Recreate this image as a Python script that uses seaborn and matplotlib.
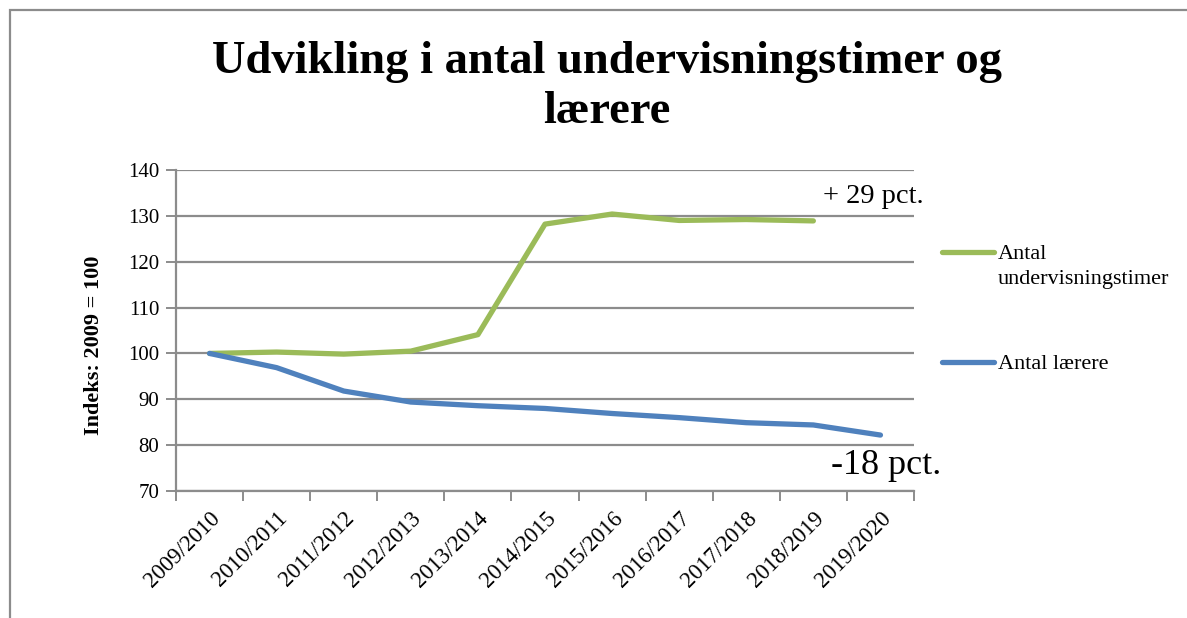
import numpy as np
import pandas as pd
import matplotlib
matplotlib.use("Agg")
import matplotlib.pyplot as plt
import seaborn as sns
from matplotlib.lines import Line2D
from matplotlib.patches import Rectangle

categories = ["2009/2010", "2010/2011", "2011/2012", "2012/2013", "2013/2014",
              "2014/2015", "2015/2016", "2016/2017", "2017/2018", "2018/2019", "2019/2020"]
timer = [100.0, 100.3, 99.85, 100.5, 104.1, 128.2, 130.4, 129.0, 129.2, 128.9, np.nan]
laerere = [100.0, 96.9, 91.8, 89.4, 88.6, 88.0, 86.9, 86.0, 84.9, 84.4, 82.2]
series_names = ["Antal undervisningstimer", "Antal lærere"]
legend_labels = ["Antal\nundervisningstimer", "Antal lærere"]
colors = ["#9BBB59", "#4F81BD"]
yticks = [70, 80, 90, 100, 110, 120, 130, 140]

sns.set_theme(style="white")
plt.rcParams["font.family"] = ["Liberation Serif", "DejaVu Serif"]
plt.rcParams["text.color"] = "black"
plt.rcParams["axes.labelcolor"] = "black"
plt.rcParams["xtick.color"] = "black"
plt.rcParams["ytick.color"] = "black"

df = pd.DataFrame({
    "idx": list(range(len(categories))) * 2,
    "value": timer + laerere,
    "serie": [series_names[0]] * len(categories) + [series_names[1]] * len(categories),
})

fig = plt.figure(figsize=(11.87, 6.18), dpi=100)
ax = fig.add_axes([176 / 1187, 1 - 491 / 618, (914 - 176) / 1187, (491 - 170) / 618])

for name, col in zip(series_names, colors):
    sub = df[df["serie"] == name].dropna()
    sns.lineplot(data=sub, x="idx", y="value", ax=ax, color=col, linewidth=3.8,
                 legend=False, solid_capstyle="round", solid_joinstyle="round", zorder=3)

ax.set_xlim(-0.5, len(categories) - 0.5)
ax.set_ylim(70, 140)
ax.set_yticks(yticks)
ax.set_yticklabels([str(v) for v in yticks], fontsize=15)
ax.yaxis.grid(True, color="#8c8c8c", linewidth=1.6)
ax.xaxis.grid(False)
ax.set_axisbelow(True)

ax.set_xticks(range(len(categories)))
ax.set_xticklabels(categories, rotation=45, ha="right", rotation_mode="anchor", fontsize=16.5)
ax.set_xticks(np.arange(-0.5, len(categories), 1.0), minor=True)
ax.tick_params(axis="x", which="major", bottom=True, length=0, pad=12)
ax.tick_params(axis="x", which="minor", bottom=True, length=7, width=1.4, color="#8c8c8c",
               direction="out")
ax.tick_params(axis="y", left=True, length=7, width=1.4, color="#8c8c8c", direction="out", pad=5)
for s in ["top", "right"]:
    ax.spines[s].set_visible(False)
for s in ["left", "bottom"]:
    ax.spines[s].set_color("#8c8c8c")
    ax.spines[s].set_linewidth(1.6)

ax.set_xlabel("")
ax.set_ylabel("Indeks: 2009 = 100", fontsize=16, fontweight="bold")
ax.yaxis.set_label_coords(-0.098, 0.455)

ax.text(9.89, 134.3, "+ 29 pct.", fontsize=20.5, ha="center", va="center")
ax.text(10.08, 75.6, "-18 pct.", fontsize=26, ha="center", va="center", clip_on=False)

fig.text(0.511, 0.859, "Udvikling i antal undervisningstimer og\nlærere", ha="center",
         va="center", fontsize=33.5, fontweight="bold", linespacing=1.25)

# legend drawn manually to match the reference layout
leg_rows = [252, 362]
for c, lab, yy in zip(colors, legend_labels, leg_rows):
    fig.add_artist(Line2D([942 / 1187, 994 / 1187], [1 - yy / 618] * 2, color=c,
                          linewidth=3.8, solid_capstyle="round", transform=fig.transFigure))
    fig.text(998 / 1187, 1 - (yy - 7) / 618, lab,
             ha="left", va="top", fontsize=16, linespacing=1.4)

fig.patches.append(Rectangle((10 / 1187, -0.05), 1.1, 1 - 10 / 618 + 0.05,
                             transform=fig.transFigure, fill=False,
                             edgecolor="#8c8c8c", linewidth=1.6))

fig.savefig("out.png", dpi=100)
